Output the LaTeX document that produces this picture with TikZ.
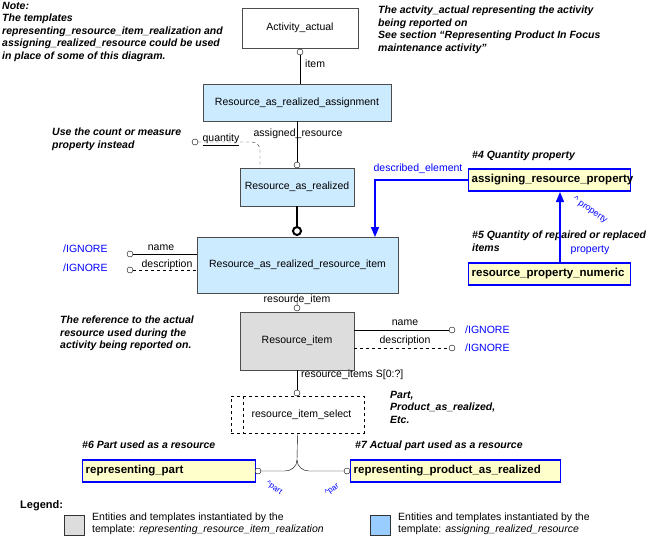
\documentclass[tikz,border=0pt]{standalone}
\usepackage{fontspec}
\setmainfont{Liberation Sans}
\usetikzlibrary{arrows.meta}
\definecolor{lb}{HTML}{CCEBFF}
\definecolor{gr}{HTML}{DDDDDD}
\definecolor{yl}{HTML}{FFFFCC}
\definecolor{bl}{HTML}{0000FF}
\definecolor{lg2}{HTML}{99CCFF}
\begin{document}
\begin{tikzpicture}[x=1pt,y=-1pt,font=\fontsize{10.5}{12}\selectfont,
 ent/.style={draw=black!70,fill=lb,minimum height=#1,inner sep=2pt},
 tpl/.style={draw=bl,line width=1.3pt,fill=yl,font=\fontsize{11.5}{13}\selectfont\bfseries,minimum height=22pt,inner sep=3pt,anchor=west,align=left},
 note/.style={font=\fontsize{10.5}{12.5}\selectfont\bfseries\itshape,align=left,anchor=north west,inner sep=0pt},
 lbl/.style={inner sep=1pt},
 ign/.style={text=bl,inner sep=1pt},
 oc/.style={circle,draw,fill=white,inner sep=0pt,minimum size=6pt}]
\useasboundingbox (0,0) rectangle (658,539);
% notes
\node[note] (n1) at (2,2) {Note:\\The templates\\representing\_resource\_item\_realization and\\assigning\_realized\_resource  could be used\\in place of some of this diagram.};
\node[note] (n2) at (378,6) {The actvity\_actual representing the activity\\being reported on\\See section ``Representing Product In Focus\\maintenance activity''};
\node[note] (n3) at (52,128) {Use the count or measure\\property instead};
\node[note] (n4) at (60,316) {The reference to the actual\\resource used during the\\activity being reported on.};
\node[note] (n5) at (390,391) {Part,\\Product\_as\_realized,\\Etc.};
% entities
\node[draw=black!70,fill=white,minimum width=116pt,minimum height=40pt] (act) at (300,28) {Activity\_actual};
\node[ent=37pt,minimum width=188pt] (rara) at (297,102.5) {Resource\_as\_realized\_assignment};
\node[ent=38pt,minimum width=114pt] (rar) at (297,187) {Resource\_as\_realized};
\node[ent=56pt,minimum width=201pt] (rarri) at (297.5,265) {Resource\_as\_realized\_resource\_item};
\node[ent=58pt,minimum width=114pt,fill=gr] (ri) at (297,341) {Resource\_item};
\node[draw=black,dashed,minimum width=133pt,minimum height=37pt] (ris) at (297.5,414.5) {\hspace{8pt}resource\_item\_select};
\draw[dashed] (243,396) -- (243,433);
% item
\node[oc] (c1) at (300,52) {};
\draw (c1) -- (rara.north -| c1);
\node[lbl,anchor=west] (l1) at (304,64) {item};
% assigned resource
\node[oc] (c2) at (297,165) {};
\draw (rara.south -| c2) -- (c2);
\node[lbl] (l2) at (298,134) {assigned\_resource};
\node[oc] (c3) at (195,142) {};
\node[lbl] (l3) at (221,140) {\underline{quantity}};
\draw[dashed,black!80] (c3) -- (252,142) to[out=0,in=90] (260,150) -- (260,168);
% thick
\node[circle,draw,line width=2pt,fill=white,inner sep=0pt,minimum size=8pt] (c4) at (297,231) {};
\draw[line width=2pt] (rar.south) -- (c4);
% name/desc left
\node[oc] (c5) at (130,254) {};
\node[oc] (c6) at (130,270) {};
\draw (c5) -- (rarri.west |- c5);
\draw[dashed] (c6) -- (rarri.west |- c6);
\node[lbl] (l5) at (161,248) {name};
\node[lbl] (l6) at (167,265) {description};
\node[ign,anchor=west] (i1) at (62,249) {/IGNORE};
\node[ign,anchor=west] (i2) at (62,268) {/IGNORE};
% resource_item
\node[oc] (c7) at (297,308) {};
\draw (rarri.south) -- (c7);
\node[lbl] (l7) at (297,300) {resource\_item};
% right name/desc
\node[oc] (c8) at (452,330) {};
\node[oc] (c9) at (452,348) {};
\draw (ri.east |- c8) -- (c8);
\draw[dashed] (ri.east |- c9) -- (c9);
\node[lbl] (l8) at (405,323) {name};
\node[lbl] (l9) at (405,341) {description};
\node[ign,anchor=west] (i3) at (464,330) {/IGNORE};
\node[ign,anchor=west] (i4) at (464,348) {/IGNORE};
% resource_items
\node[oc] (c10) at (297,393) {};
\draw (ri.south) -- (c10);
\node[lbl,anchor=west] (l10) at (300,375) {resource\_items S[0:?]};
% templates
\node[tpl,minimum width=173pt,text width=167pt] (rp) at (82,471) {representing\_part};
\node[tpl,minimum width=210pt,text width=204pt] (rpar) at (350,471) {representing\_product\_as\_realized};
\node[oc] (c11) at (258,471) {};
\node[oc] (c12) at (347,471) {};
\draw (ris.south) -- (297,460) to[out=-90,in=0] (285,471) -- (c11);
\draw (297,460) to[out=-90,in=180] (309,471) -- (c12);
\node[ign,rotate=-35,font=\fontsize{8}{9}\selectfont] (p1) at (274,488) {\textasciicircum part};
\node[ign,rotate=35,font=\fontsize{8}{9}\selectfont] (p2) at (332,490) {\textasciicircum par};
\node[note] (h6) at (82,441) {\#6 Part used as a resource};
\node[note] (h7) at (355,441) {\#7 Actual part used as a resource};
% property
\node[tpl,minimum width=162pt,text width=156pt] (arp) at (468,180) {assigning\_resource\_property};
\node[tpl,minimum width=162pt,text width=156pt] (rpn) at (468,274) {resource\_property\_numeric};
\node[note] (h4) at (472,151) {\#4 Quantity property};
\node[note] (h5) at (472,231) {\#5 Quantity of repaired or replaced\\items};
\draw[bl,line width=1.3pt,-{Triangle[width=8pt,length=10pt]}] (arp.west) -- (375,180) -- (375,237);
\node[ign] (de) at (418,169) {described\_element};
\draw[bl,line width=1.3pt,-{Triangle[width=8pt,length=10pt]}] (560,262) -- (560,192);
\node[ign,rotate=-35,font=\fontsize{9}{10}\selectfont] (pp) at (590,210) {\textasciicircum\ property};
\node[ign] (pp2) at (590,250) {property};
% legend
\node[note,font=\fontsize{11}{12}\selectfont\bfseries] (lg) at (20,500) {Legend:};
\node[draw=black!80,fill=gr,minimum size=20pt,inner sep=0pt,anchor=north west] (sq1) at (64,515) {};
\node[anchor=north west,inner sep=0pt,align=left] (t1) at (92,513) {Entities and templates instantiated by the\\template: \textit{representing\_resource\_item\_realization}};
\node[draw=black!80,fill=lg2,minimum size=20pt,inner sep=0pt,anchor=north west] (sq2) at (370,515) {};
\node[anchor=north west,inner sep=0pt,align=left] (t2) at (398,513) {Entities and templates instantiated by the\\template: \textit{assigning\_realized\_resource}};
\end{tikzpicture}
\end{document}
